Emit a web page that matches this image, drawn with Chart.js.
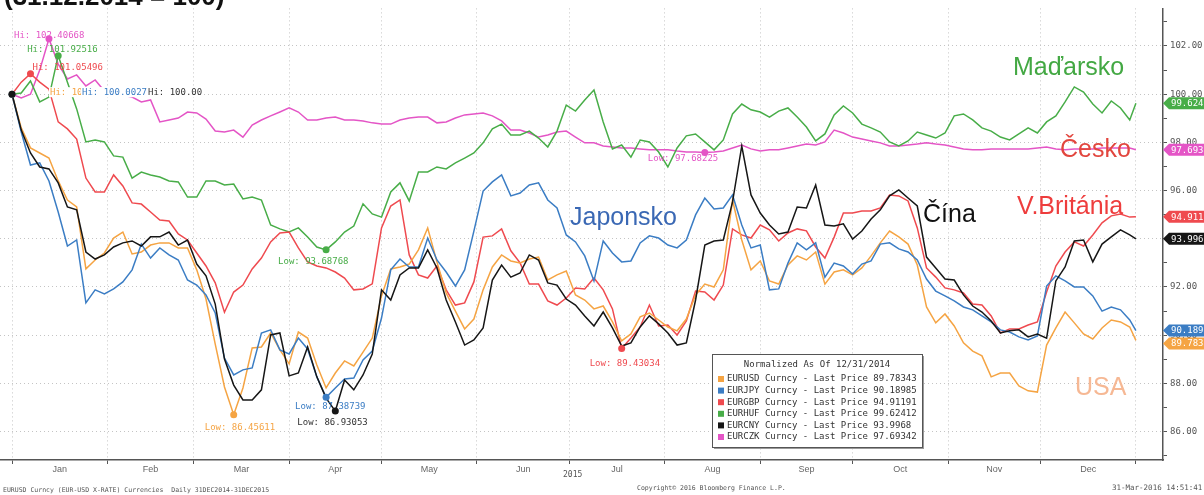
<!DOCTYPE html>
<html>
<head>
<meta charset="utf-8">
<title>EUR cross rates 2015, normalized</title>
<script src="https://cdn.jsdelivr.net/npm/chart.js@4.4.1/dist/chart.umd.min.js"></script>
<style>
  body { margin: 0; background: #fff; }
  canvas { display: block; }
</style>
</head>
<body>
<canvas id="chart" width="1204" height="495"></canvas>
<script>
// days since 31 Dec 2014
const days = [0, 3, 6, 9, 12, 15, 18, 21, 24, 27, 30, 33, 36, 39, 42, 45, 48, 51, 54, 57,
  60, 63, 66, 69, 72, 75, 78, 81, 84, 87, 90, 93, 96, 99, 102, 105, 108, 111, 114, 117,
  120, 123, 126, 129, 132, 135, 138, 141, 144, 147, 150, 153, 156, 159, 162, 165, 168, 171, 174, 177,
  180, 183, 186, 189, 192, 195, 198, 201, 204, 207, 210, 213, 216, 219, 222, 225, 228, 231, 234, 237,
  240, 243, 246, 249, 252, 255, 258, 261, 264, 267, 270, 273, 276, 279, 282, 285, 288, 291, 294, 297,
  300, 303, 306, 309, 312, 315, 318, 321, 324, 327, 330, 333, 336, 339, 342, 345, 348, 351, 354, 357,
  360, 363, 365];

const eurusd = [100.00, 98.60, 97.77, 97.56, 97.35, 96.40, 95.61, 95.32, 92.75, 93.12,
  93.41, 94.03, 94.28, 93.37, 93.45, 93.74, 93.83, 93.83, 93.62, 93.62,
  92.71, 91.50, 89.63, 87.85, 86.70, 87.81, 89.47, 89.51, 90.09, 89.39,
  88.81, 90.13, 89.88, 88.76, 87.81, 88.43, 88.93, 88.72, 89.30, 89.88,
  91.63, 92.75, 92.83, 92.95, 93.54, 94.45, 93.04, 91.75, 91.00, 90.26,
  90.67, 91.88, 92.83, 93.33, 93.08, 93.00, 93.16, 93.24, 92.29, 92.50,
  92.66, 91.67, 91.46, 91.09, 91.21, 90.55, 89.76, 90.05, 90.76, 90.92,
  90.63, 90.34, 90.18, 90.67, 91.67, 92.12, 92.00, 92.71, 95.61, 93.95,
  92.71, 93.08, 92.25, 92.12, 92.91, 93.29, 93.12, 93.45, 92.12, 92.62,
  92.71, 92.50, 92.79, 93.29, 93.83, 94.32, 94.08, 93.78, 92.91, 91.17,
  90.51, 90.88, 90.38, 89.68, 89.34, 89.14, 88.27, 88.43, 88.43, 87.89,
  87.69, 87.64, 89.59, 90.30, 90.96, 90.51, 90.05, 89.84, 90.30, 90.63,
  90.55, 90.34, 89.78343];

const eurjpy = [100.00, 98.43, 97.06, 97.15, 96.40, 95.11, 93.70, 93.95, 91.34, 91.88,
  91.71, 91.92, 92.21, 92.71, 93.78, 93.20, 93.62, 93.33, 93.12, 92.29,
  92.08, 91.67, 90.92, 89.05, 88.35, 88.56, 88.64, 90.09, 90.22, 89.39,
  89.22, 89.88, 89.43, 88.27, 87.42, 87.81, 88.18, 88.22, 88.97, 89.34,
  90.71, 92.71, 93.16, 92.83, 92.83, 94.03, 93.12, 92.62, 92.04, 92.71,
  94.32, 95.98, 96.36, 96.65, 95.78, 95.90, 96.23, 96.32, 95.61, 95.28,
  94.16, 93.87, 93.29, 92.25, 93.91, 93.41, 93.04, 93.08, 93.83, 94.12,
  94.03, 93.74, 93.62, 93.95, 94.99, 95.69, 95.24, 95.28, 95.82, 94.57,
  93.62, 93.74, 91.88, 91.92, 92.99, 93.83, 93.54, 93.83, 92.41, 92.99,
  92.87, 92.54, 92.95, 93.08, 93.78, 93.83, 93.58, 93.45, 93.12, 92.33,
  91.83, 91.63, 91.42, 91.17, 91.05, 90.80, 90.55, 90.22, 90.13, 89.93,
  89.80, 89.97, 92.04, 92.46, 92.25, 92.00, 92.00, 91.63, 91.00, 91.17,
  91.05, 90.63, 90.18985];

const eurgbp = [100.00, 100.50, 100.85, 100.50, 100.21, 98.85, 98.56, 98.14, 96.52, 95.94,
  95.94, 96.65, 96.19, 95.49, 95.44, 95.11, 94.78, 94.74, 94.20, 93.95,
  93.41, 92.87, 92.17, 90.95, 91.79, 92.08, 92.75, 93.20, 93.87, 94.24,
  94.28, 93.62, 93.04, 92.87, 92.79, 92.62, 92.37, 91.88, 91.92, 92.13,
  94.45, 95.36, 95.61, 93.33, 92.50, 92.37, 92.87, 91.88, 91.25, 91.34,
  92.21, 94.07, 94.12, 94.41, 93.50, 93.00, 92.12, 92.12, 91.42, 91.25,
  91.54, 91.96, 91.92, 92.37, 91.88, 91.09, 89.45, 89.88, 90.34, 91.25,
  90.38, 90.42, 90.01, 90.59, 91.83, 91.79, 91.46, 92.08, 94.41, 94.16,
  94.03, 94.57, 94.37, 93.91, 94.24, 94.41, 94.33, 93.66, 93.20, 94.07,
  95.07, 95.07, 95.15, 95.15, 95.28, 95.82, 95.78, 95.57, 94.45, 92.79,
  92.41, 91.96, 91.88, 91.75, 91.29, 91.25, 90.80, 90.09, 90.26, 90.26,
  90.42, 90.55, 91.79, 92.87, 93.45, 93.87, 93.70, 94.16, 94.66, 94.95,
  95.03, 94.90, 94.91191];

const eurhuf = [100.00, 100.05, 100.55, 99.68, 99.88, 101.60, 100.50, 99.39, 98.02, 98.10,
  98.02, 97.44, 97.39, 96.52, 96.77, 96.65, 96.56, 96.40, 96.36, 95.73,
  95.73, 96.40, 96.40, 96.23, 96.27, 95.65, 95.73, 95.61, 94.57, 94.41,
  94.28, 94.45, 94.07, 93.66, 93.54, 93.87, 94.28, 94.53, 95.45, 95.03,
  94.90, 95.94, 96.32, 95.57, 96.77, 96.77, 96.98, 96.90, 97.15, 97.35,
  97.56, 97.98, 98.56, 98.76, 98.31, 98.31, 98.47, 98.18, 97.81, 98.47,
  99.55, 99.30, 99.76, 100.17, 98.85, 97.73, 97.89, 97.39, 98.10, 98.02,
  97.60, 96.98, 97.77, 98.27, 98.35, 98.02, 97.69, 98.10, 99.18, 99.59,
  99.35, 99.26, 99.05, 99.30, 99.43, 99.05, 98.64, 98.06, 98.35, 99.14,
  99.51, 99.22, 98.76, 98.60, 98.43, 98.02, 97.85, 98.06, 98.43, 98.31,
  98.18, 98.39, 99.10, 99.18, 98.93, 98.60, 98.47, 98.22, 98.10, 98.35,
  98.60, 98.39, 98.85, 99.10, 99.68, 100.30, 100.09, 99.59, 99.22, 99.72,
  99.43, 98.93, 99.62412];

const eurcny = [100.00, 98.51, 97.56, 96.98, 96.90, 96.32, 95.32, 95.20, 93.45, 93.16,
  93.33, 93.66, 93.83, 93.91, 93.70, 94.08, 94.08, 94.28, 93.74, 93.95,
  92.95, 92.46, 91.29, 89.01, 87.93, 87.31, 87.31, 87.73, 90.01, 90.09,
  88.31, 88.43, 89.51, 88.27, 87.39, 86.85, 88.14, 87.73, 88.35, 89.22,
  91.88, 91.46, 92.50, 92.79, 92.79, 93.54, 92.79, 91.46, 90.55, 89.59,
  89.80, 90.30, 92.29, 92.91, 92.41, 92.58, 93.33, 93.12, 92.17, 92.08,
  91.50, 91.25, 90.80, 90.38, 90.96, 90.30, 89.55, 89.68, 90.34, 90.80,
  90.47, 90.09, 89.59, 89.68, 91.46, 93.74, 93.91, 93.95, 95.53, 97.85,
  95.82, 95.07, 94.57, 94.20, 94.28, 95.32, 95.28, 96.23, 94.57, 94.53,
  94.62, 93.99, 94.32, 94.82, 95.20, 95.78, 96.03, 95.69, 95.36, 93.24,
  92.79, 92.33, 92.29, 91.67, 91.21, 90.96, 90.59, 90.09, 90.18, 90.22,
  89.93, 90.05, 89.88, 92.25, 92.83, 93.91, 93.95, 93.04, 93.78, 94.08,
  94.37, 94.16, 93.9968];

const eurczk = [100.00, 99.84, 100.00, 101.00, 102.30, 101.25, 100.63, 100.80, 100.34, 100.59,
  100.13, 100.05, 99.96, 99.88, 99.68, 99.76, 98.85, 98.93, 99.01, 99.26,
  99.22, 98.97, 98.47, 98.43, 98.51, 98.22, 98.72, 98.93, 99.10, 99.26,
  99.43, 99.26, 98.93, 98.93, 99.01, 99.05, 98.93, 98.93, 98.89, 98.81,
  98.76, 98.76, 98.93, 99.01, 99.05, 99.05, 98.81, 98.85, 99.01, 99.14,
  99.18, 99.22, 99.10, 98.89, 98.51, 98.51, 98.39, 98.22, 98.31, 98.43,
  98.47, 98.22, 97.98, 97.98, 97.85, 97.81, 97.77, 97.77, 97.73, 97.69,
  97.69, 97.69, 97.64, 97.60, 97.60, 97.58, 97.60, 97.64, 97.77, 97.89,
  97.73, 97.64, 97.69, 97.69, 97.77, 97.85, 97.93, 97.89, 98.02, 98.51,
  98.39, 98.22, 98.14, 98.06, 97.98, 97.85, 97.85, 97.89, 97.93, 97.98,
  97.93, 97.89, 97.81, 97.73, 97.69, 97.69, 97.73, 97.73, 97.73, 97.73,
  97.73, 97.77, 97.81, 97.73, 97.69, 97.73, 97.73, 97.73, 97.77, 97.77,
  97.77, 97.77, 97.69342];

const tickers = ['EURUSD', 'EURJPY', 'EURGBP', 'EURHUF', 'EURCNY', 'EURCZK'];
const countries = ['USA', 'Japonsko', 'V.Británia', 'Maďarsko', 'Čína', 'Česko'];
const hiLabels = ['Hi: 100.00', 'Hi: 100.00273', 'Hi: 101.05496', 'Hi: 101.92516', 'Hi: 100.00', 'Hi: 102.40668'];
const lowLabels = ['Low: 86.45611', 'Low: 87.38739', 'Low: 89.43034', 'Low: 93.68768', 'Low: 86.93053', 'Low: 97.68225'];

const monthStarts = [0, 31, 59, 90, 120, 151, 181, 212, 243, 273, 304, 334, 365];
const monthNames = ['Jan', 'Feb', 'Mar', 'Apr', 'May', 'Jun', 'Jul', 'Aug', 'Sep', 'Oct', 'Nov', 'Dec'];
const yTicks = [85, 86, 87, 88, 89, 90, 91, 92, 93, 94, 95, 96, 97, 98, 99, 100, 101, 102, 103];

const seriesValues = [eurusd, eurjpy, eurgbp, eurhuf, eurcny, eurczk];

// styling
const colors = ['#f5a443', '#3b7dc4', '#ef4a4f', '#48ad48', '#161616', '#e455c6'];
const drawOrder = [2, 1, 3, 4, 0, 5];
const countryColors = ['#f6b894', '#3a68b4', '#ee3d3d', '#43a843', '#111111', '#e2463e'];
const countryPos = [[1075, 388], [570, 218], [1017, 207], [1013, 68], [923, 215], [1060, 150]];
const hiOff = [[38, -2], [70, -2], [2, -6], [-31, -6], [136, -2], [-35, -3]];
const lowOff = [[-29, 13], [-31, 9], [-32, 15], [-48, 12], [-38, 12], [-57, 6]];

const monthMids = monthNames.map((m, j) => (monthStarts[j] + monthStarts[j + 1]) / 2);
const xTickValues = monthStarts.concat(monthMids).sort((a, b) => a - b);
const mono = '"DejaVu Sans Mono", monospace';

const decor = {
  id: 'decor',
  afterDatasetsDraw(chart) {
    const {ctx, scales: {x, y}} = chart;
    ctx.save();
    ctx.textBaseline = 'middle';
    ctx.textAlign = 'left';

    ctx.font = '25px "Liberation Sans", Arial, sans-serif';
    countries.forEach((c, i) => {
      ctx.fillStyle = countryColors[i];
      ctx.fillText(c, countryPos[i][0], countryPos[i][1]);
    });

    ctx.font = '9px ' + mono;
    seriesValues.forEach((vals, i) => {
      const hiI = vals.indexOf(Math.max(...vals));
      const loI = vals.indexOf(Math.min(...vals));
      [[hiI, hiLabels[i], hiOff[i]], [loI, lowLabels[i], lowOff[i]]].forEach(([k, txt, off]) => {
        const px = x.getPixelForValue(days[k]);
        const py = y.getPixelForValue(vals[k]);
        ctx.fillStyle = colors[i];
        ctx.beginPath();
        ctx.arc(px, py, 3.5, 0, Math.PI * 2);
        ctx.fill();
        const tx = px + off[0], ty = py + off[1];
        if (k === 0) {
          // the start labels pile up on each other
          const w = ctx.measureText(txt).width;
          ctx.fillStyle = '#fff';
          ctx.fillRect(tx - 1, ty - 5, w + 2, 10);
        }
        ctx.fillStyle = i === 4 ? '#333' : colors[i];
        ctx.fillText(txt, tx, ty);
      });
    });
    ctx.restore();
  },
  afterDraw(chart) {
    const {ctx, scales: {y}, chartArea} = chart;
    ctx.save();
    ctx.textBaseline = 'middle';
    ctx.textAlign = 'left';

    // last value tags on the right axis
    const tags = seriesValues.map((vals, i) => {
      const v = vals[vals.length - 1];
      return {i, v, py: y.getPixelForValue(v)};
    }).sort((a, b) => a.py - b.py);
    for (let j = 1; j < tags.length; j++) {
      if (tags[j].py - tags[j - 1].py < 13) tags[j].py = tags[j - 1].py + 13;
    }
    const ax = chartArea.right;
    ctx.font = '9px ' + mono;
    tags.forEach(t => {
      ctx.fillStyle = colors[t.i];
      ctx.beginPath();
      ctx.moveTo(ax, t.py);
      ctx.lineTo(ax + 6, t.py - 6);
      ctx.lineTo(chart.width, t.py - 6);
      ctx.lineTo(chart.width, t.py + 6);
      ctx.lineTo(ax + 6, t.py + 6);
      ctx.closePath();
      ctx.fill();
      ctx.fillStyle = '#fff';
      ctx.fillText(String(t.v), ax + 8, t.py + 0.5);
    });

    // legend box
    const lx = 712, ly = 354, lw = 210, lh = 93;
    ctx.fillStyle = '#9a9a9a';
    ctx.fillRect(lx + 2, ly + 2, lw, lh);
    ctx.fillStyle = '#fff';
    ctx.fillRect(lx, ly, lw, lh);
    ctx.strokeStyle = '#555';
    ctx.lineWidth = 1;
    ctx.strokeRect(lx + 0.5, ly + 0.5, lw, lh);
    ctx.fillStyle = '#333';
    ctx.textAlign = 'center';
    ctx.fillText('Normalized As Of 12/31/2014', lx + lw / 2, ly + 11);
    ctx.textAlign = 'left';
    tickers.forEach((t, i) => {
      const ry = ly + 25 + i * 11.6;
      const vals = seriesValues[i];
      ctx.fillStyle = colors[i];
      ctx.fillRect(lx + 6, ry - 3, 6, 6);
      ctx.fillStyle = '#333';
      ctx.fillText(t + ' Curncy - Last Price ' + vals[vals.length - 1], lx + 15, ry);
    });

    // title (cut off by the top edge) and footer
    ctx.textBaseline = 'alphabetic';
    ctx.fillStyle = '#111';
    ctx.font = 'bold 26px "Liberation Sans", Arial, sans-serif';
    ctx.fillText('(31.12.2014 = 100)', 4, 5);

    ctx.fillStyle = '#555';
    ctx.font = '8px ' + mono;
    ctx.fillText('2015', 563, 477);
    ctx.font = '6.5px ' + mono;
    ctx.fillText('EURUSD Curncy (EUR-USD X-RATE) Currencies  Daily 31DEC2014-31DEC2015', 3, 492);
    ctx.fillText('Copyright\u00a9 2016 Bloomberg Finance L.P.', 637, 490);
    ctx.font = '7.5px ' + mono;
    ctx.fillText('31-Mar-2016 14:51:41', 1112, 490);
    ctx.restore();
  }
};

const ctx = document.getElementById('chart');

new Chart(ctx, {
  type: 'line',
  data: {
    datasets: seriesValues.map((vals, i) => ({
      label: tickers[i],
      data: days.map((d, k) => ({x: d, y: vals[k]})),
      borderColor: colors[i],
      borderWidth: 1.5,
      pointRadius: 0,
      tension: 0,
      fill: false,
      order: drawOrder[i]
    }))
  },
  options: {
    responsive: false,
    animation: false,
    devicePixelRatio: 1,
    layout: {padding: 0},
    plugins: {
      legend: {display: false},
      tooltip: {enabled: false}
    },
    scales: {
      x: {
        type: 'linear',
        min: -3.9,
        max: 373.8,
        afterBuildTicks: s => { s.ticks = xTickValues.map(v => ({value: v})); },
        afterFit: s => { s.height = 35; },
        grid: {
          color: c => (c.tick && monthStarts.includes(c.tick.value)) ? '#c4c4c4' : 'rgba(0,0,0,0)',
          tickColor: c => (c.tick && monthStarts.includes(c.tick.value)) ? '#555' : 'rgba(0,0,0,0)',
          tickLength: 4,
          lineWidth: 1
        },
        border: {display: true, color: '#555', width: 1.5, dash: [1, 3]},
        ticks: {
          autoSkip: false,
          maxRotation: 0,
          padding: 0,
          color: '#666',
          font: {family: 'Liberation Sans', size: 9},
          callback: v => {
            const m = monthMids.indexOf(v);
            return m >= 0 ? monthNames[m] : '';
          }
        }
      },
      y: {
        type: 'linear',
        position: 'right',
        min: 84.82,
        max: 103.56,
        afterBuildTicks: s => { s.ticks = yTicks.map(v => ({value: v})); },
        afterFit: s => { s.width = 41; },
        grid: {
          color: c => (c.tick && c.tick.value % 2 === 0) ? '#c4c4c4' : 'rgba(0,0,0,0)',
          tickColor: '#555',
          tickLength: 4,
          lineWidth: 1
        },
        border: {display: true, color: '#555', width: 1.5, dash: [1, 3]},
        ticks: {
          padding: 3,
          color: '#555',
          font: {family: 'DejaVu Sans Mono', size: 9},
          callback: v => v % 2 === 0 ? v.toFixed(2) : ''
        }
      }
    }
  },
  plugins: [decor]
});
</script>
</body>
</html>
